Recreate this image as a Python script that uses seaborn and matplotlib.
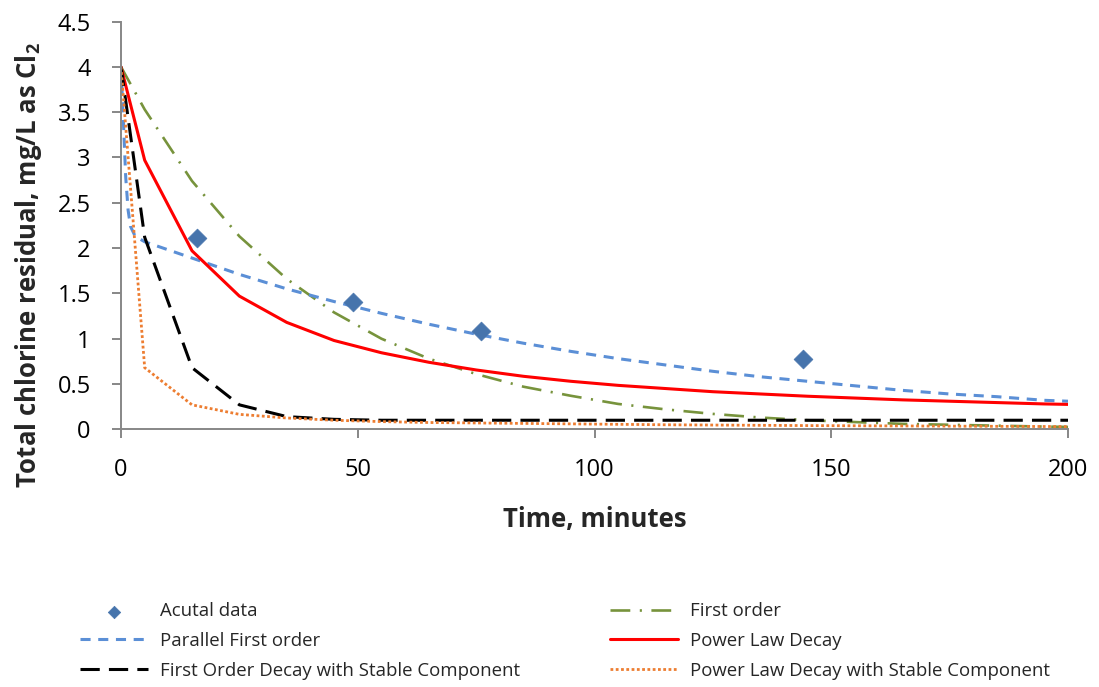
import matplotlib
matplotlib.use("Agg")
import matplotlib.pyplot as plt
import seaborn as sns
from matplotlib.ticker import FixedLocator, FixedFormatter

# Measured total chlorine residual (mg/L as Cl2)
t_measured = [16, 49, 76, 144]
c_measured = [2.11, 1.41, 1.08, 0.78]

# Model time grid (minutes)
t_model = [0, 5, 15, 25, 35, 45, 55, 65, 75, 85, 95, 105, 115, 125, 135,
           145, 155, 165, 175, 185, 195, 200]

c_first_order = [4.0, 3.53, 2.74, 2.13, 1.66, 1.29, 1.00, 0.78, 0.61, 0.47,
                 0.37, 0.28, 0.22, 0.17, 0.13, 0.10, 0.08, 0.06, 0.05, 0.04,
                 0.03, 0.026]

c_power_law = [4.0, 2.97, 1.97, 1.47, 1.18, 0.98, 0.845, 0.74, 0.655, 0.585,
               0.53, 0.485, 0.45, 0.415, 0.39, 0.365, 0.345, 0.325, 0.31,
               0.295, 0.28, 0.275]

c_first_stable = [4.0, 2.12, 0.68, 0.27, 0.14, 0.11, 0.10, 0.10, 0.10, 0.10,
                  0.10, 0.10, 0.10, 0.10, 0.10, 0.10, 0.10, 0.10, 0.10, 0.10,
                  0.10, 0.10]

c_power_stable = [4.0, 0.68, 0.27, 0.165, 0.125, 0.10, 0.085, 0.075, 0.07,
                  0.065, 0.06, 0.055, 0.05, 0.047, 0.044, 0.041, 0.039, 0.037,
                  0.035, 0.033, 0.031, 0.03]

# Parallel first-order model uses a finer grid at early times
t_parallel = [0, 0.5, 1, 1.5, 2, 3, 5, 15, 25, 35, 45, 55, 65, 75, 85, 95,
              105, 115, 125, 135, 145, 155, 165, 175, 185, 195, 200]
c_parallel = [4.0, 3.4, 2.78, 2.42, 2.24, 2.13, 2.07, 1.89, 1.71, 1.55, 1.41,
              1.28, 1.16, 1.05, 0.95, 0.86, 0.78, 0.71, 0.64, 0.58, 0.53,
              0.48, 0.43, 0.39, 0.36, 0.32, 0.31]

x_ticks = [0, 50, 100, 150, 200]
x_tick_labels = ["0", "50", "100", "150", "200"]
y_ticks = [0, 0.5, 1, 1.5, 2, 2.5, 3, 3.5, 4, 4.5]
y_tick_labels = ["0", "0.5", "1", "1.5", "2", "2.5", "3", "3.5", "4", "4.5"]

sns.set_style("white")
plt.rcParams["font.family"] = ["Open Sans", "DejaVu Sans"]
plt.rcParams["mathtext.fontset"] = "custom"
plt.rcParams["mathtext.rm"] = "Open Sans"
plt.rcParams["mathtext.bf"] = "Open Sans:bold"

fig = plt.figure(figsize=(10.99, 6.87), dpi=100)
ax = fig.add_axes([0.1101, 0.3751, 0.8617, 0.5935])

axis_grey = "#878787"

# Model curves, drawn in series order
sns.lineplot(x=t_model, y=c_first_order, ax=ax, color="#77933C", linewidth=1.9,
             linestyle=(0, (7.5, 3.6, 0.8, 3.6)), sort=False, label="First order")
sns.lineplot(x=t_parallel, y=c_parallel, ax=ax, color="#5B8FD6", linewidth=2.2,
             linestyle=(0, (3.3, 2.5)), sort=False, label="Parallel First order")
sns.lineplot(x=t_model, y=c_power_law, ax=ax, color="#FF0000", linewidth=2.2,
             sort=False, label="Power Law Decay")
sns.lineplot(x=t_model, y=c_first_stable, ax=ax, color="#000000", linewidth=2.2,
             linestyle=(0, (6.3, 3.0)), sort=False,
             label="First Order Decay with Stable Component")
sns.lineplot(x=t_model, y=c_power_stable, ax=ax, color="#ED7D31", linewidth=2.0,
             linestyle=(0, (1.0, 0.9)), sort=False,
             label="Power Law Decay with Stable Component")

# Measured points
sns.scatterplot(x=t_measured, y=c_measured, ax=ax, marker="D", s=92,
                color="#4674AC", edgecolor="#4674AC", linewidth=0.5,
                zorder=5, label="Acutal data")

handles, labels = ax.get_legend_handles_labels()
lookup = dict(zip(labels, handles))
if ax.get_legend() is not None:
    ax.get_legend().remove()

ax.set_xlim(0, 200)
ax.set_ylim(0, 4.5)
ax.xaxis.set_major_locator(FixedLocator(x_ticks))
ax.xaxis.set_major_formatter(FixedFormatter(x_tick_labels))
ax.yaxis.set_major_locator(FixedLocator(y_ticks))
ax.yaxis.set_major_formatter(FixedFormatter(y_tick_labels))

for side in ["top", "right"]:
    ax.spines[side].set_visible(False)
for side in ["left", "bottom"]:
    ax.spines[side].set_color(axis_grey)
    ax.spines[side].set_linewidth(1.4)

ax.tick_params(axis="both", direction="out", length=6.8, width=1.4,
               color=axis_grey, labelsize=17, labelcolor="black",
               left=True, bottom=True)
ax.tick_params(axis="x", pad=14)
ax.tick_params(axis="y", pad=15)

ax.set_xlabel("Time, minutes", fontsize=18.5, fontweight="bold", va="baseline")
ax.xaxis.set_label_coords(0.5, -0.2396)
ax.set_ylabel(r"Total chlorine residual, mg/L as Cl$_\mathbf{2}$", fontsize=18.5,
              fontweight="bold", va="center")
ax.yaxis.set_label_coords(-0.0977, 0.403)

legend_kw = dict(frameon=False, fontsize=13.4, handlelength=3.65,
                 handletextpad=0.66, labelspacing=0.62, borderpad=0,
                 borderaxespad=0, loc="center left", markerscale=0.66,
                 scatterpoints=1)

left_labels = ["Acutal data", "Parallel First order",
               "First Order Decay with Stable Component"]
right_labels = ["First order", "Power Law Decay",
                "Power Law Decay with Stable Component"]

leg1 = fig.legend([lookup[k] for k in left_labels], left_labels,
                  bbox_to_anchor=(80 / 1099, 1 - 641 / 687), **legend_kw)
leg2 = fig.legend([lookup[k] for k in right_labels], right_labels,
                  bbox_to_anchor=(610 / 1099, 1 - 641 / 687), **legend_kw)

fig.savefig("out.png", dpi=100, facecolor="white")
